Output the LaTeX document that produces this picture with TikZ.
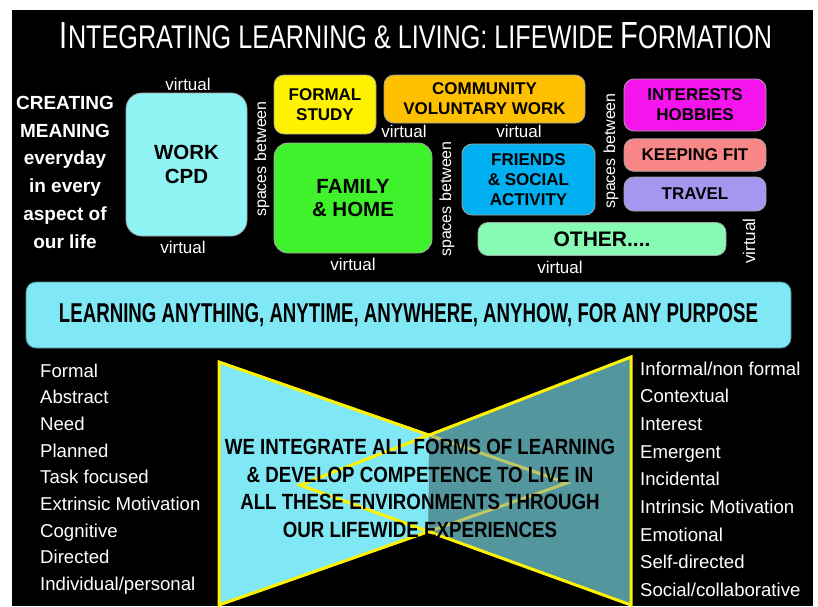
\documentclass[tikz,border=0pt]{standalone}
\usepackage{fontspec}
\setmainfont{Liberation Sans}
\usepackage{graphicx}
\usepackage{tikz}
\definecolor{workcyan}{RGB}{142,244,244}
\definecolor{famgreen}{RGB}{64,242,44}
\definecolor{commorange}{RGB}{255,192,0}
\definecolor{friendblue}{RGB}{0,176,240}
\definecolor{hobbymag}{RGB}{245,20,235}
\definecolor{fitpink}{RGB}{250,135,135}
\definecolor{travelpurple}{RGB}{166,150,240}
\definecolor{othermint}{RGB}{135,250,180}
\definecolor{learncyan}{RGB}{128,232,245}
\definecolor{bowdark}{RGB}{84,150,158}
\newcommand{\titlecap}[1]{{\fontsize{30}{30}\selectfont #1}}
\newcommand{\narrow}[1]{\scalebox{0.85}[1]{#1}}

\begin{document}
\begin{tikzpicture}[x=1pt, y=-1pt,
		box/.style={draw=black!35, line width=.8pt, rounded corners=10pt, inner sep=0pt, align=center, font=\fontsize{17}{20}\selectfont\bfseries},
		virt/.style={text=white, inner sep=0pt, font=\fontsize{17}{17}\selectfont},
		item/.style={text=white, inner sep=0pt, anchor=base west, font=\fontsize{18.6}{20}\selectfont},
		bowline/.style={draw=yellow, line width=3pt}]
	\useasboundingbox (0,0) rectangle (818,606);
	\fill[black] (12,10) rectangle (813,606);
	\node[text=white, inner sep=0pt, anchor=base] (title) at (416,48) {\resizebox{712pt}{26pt}{\fontsize{26}{26}\selectfont\titlecap{I}NTEGRATING LEARNING \& LIVING: LIFEWIDE \titlecap{F}ORMATION}};

	% the places where we live and learn
	\node[text=white, inner sep=0pt, align=center, font=\fontsize{19}{27.7}\selectfont\bfseries] (creating) at (65,172.3) {CREATING\\MEANING\\everyday\\in every\\aspect of\\our life};
	\node[box, fill=workcyan, rounded corners=16pt, minimum width=121pt, minimum height=143pt, font=\fontsize{20.5}{23.3}\selectfont\bfseries] (work) at (186.5,164.5) {WORK\\CPD};
	\node[box, fill=yellow, minimum width=102pt, minimum height=59pt] (formal) at (325,104.5) {FORMAL\\STUDY};
	\node[box, fill=famgreen, rounded corners=14pt, minimum width=158pt, minimum height=110pt, font=\fontsize{20.5}{23.3}\selectfont\bfseries] (family) at (353,198) {FAMILY\\\& HOME};
	\node[box, fill=commorange, minimum width=201pt, minimum height=48pt] (community) at (484.5,99) {COMMUNITY\\VOLUNTARY WORK};
	\node[box, fill=friendblue, minimum width=133pt, minimum height=71pt] (friends) at (528.5,179.5) {FRIENDS\\\& SOCIAL\\ACTIVITY};
	\node[box, fill=hobbymag, minimum width=142pt, minimum height=52pt] (hobbies) at (695,105) {INTERESTS\\HOBBIES};
	\node[box, fill=fitpink, minimum width=142pt, minimum height=32.5pt] (fit) at (695,155) {KEEPING FIT};
	\node[box, fill=travelpurple, minimum width=142pt, minimum height=34pt] (travel) at (695,194) {TRAVEL};
	\node[box, fill=othermint, minimum width=248pt, minimum height=33pt, font=\fontsize{21}{21}\selectfont\bfseries] (other) at (602,239) {OTHER....};
	\foreach \x/\y [count=\i] in {188/84, 183/247, 353/264, 404/131.5, 519/131.5, 560/267}
		\node[virt] (virt\i) at (\x,\y) {virtual};
	\node[virt, rotate=90] (virt7) at (749,241) {virtual};
	\foreach \x/\y [count=\i] in {262/159, 447/199, 611/151}
		\node[virt, rotate=90, font=\fontsize{16}{16}\selectfont] (gap\i) at (\x,\y) {spaces between};

	\node[box, fill=learncyan, draw=learncyan!60!black, minimum width=765pt, minimum height=66pt] (learning) at (408.5,315) {\resizebox{699pt}{19pt}{LEARNING ANYTHING, ANYTIME, ANYWHERE, ANYHOW, FOR ANY PURPOSE}};

	% bow tie
	\coordinate (ltop) at (219,362);
	\coordinate (lbot) at (219,605);
	\coordinate (lapex) at (567,483);
	\coordinate (rtop) at (631,357);
	\coordinate (rbot) at (631,605);
	\coordinate (rapex) at (300,485);
	\coordinate (xtop) at (intersection of ltop--lapex and rtop--rapex);
	\coordinate (xbot) at (intersection of lbot--lapex and rbot--rapex);
	\begin{scope}
		\clip (12,340) -| (xtop) -- (xbot) |- (12,606) -- cycle;
		\fill[learncyan] (ltop) -- (lbot) -- (lapex) -- cycle;
		\fill[learncyan] (rtop) -- (rbot) -- (rapex) -- cycle;
	\end{scope}
	\begin{scope}
		\clip (813,340) -| (xtop) -- (xbot) |- (813,606) -- cycle;
		\fill[bowdark] (ltop) -- (lbot) -- (lapex) -- cycle;
		\fill[bowdark] (rtop) -- (rbot) -- (rapex) -- cycle;
	\end{scope}
	\draw[bowline, draw=yellow!55!bowdark] (xtop) -- (lapex) -- (xbot);
	\draw[bowline] (xtop) -- (ltop) -- (lbot) -- (xbot);
	\draw[bowline] (rtop) -- (rbot) -- (rapex) -- cycle;
	\node[inner sep=0pt, align=center, font=\fontsize{22}{27.7}\selectfont\bfseries] (bowtext) at (420,488.5) {\narrow{WE INTEGRATE ALL FORMS OF LEARNING}\\\narrow{\& DEVELOP COMPETENCE TO LIVE IN}\\\narrow{ALL THESE ENVIRONMENTS THROUGH}\\\narrow{OUR LIFEWIDE EXPERIENCES}};

	\foreach \w [count=\i from 0] in {Formal, Abstract, Need, Planned, Task focused, Extrinsic Motivation, Cognitive, Directed, Individual/personal}
		\node[item] (left\i) at (40,377+26.7*\i) {\w};
	\foreach \w [count=\i from 0] in {Informal/non formal, Contextual, Interest, Emergent, Incidental, Intrinsic Motivation, Emotional, Self-directed, Social/collaborative}
		\node[item] (right\i) at (640,375+27.7*\i) {\w};
\end{tikzpicture}
\end{document}
